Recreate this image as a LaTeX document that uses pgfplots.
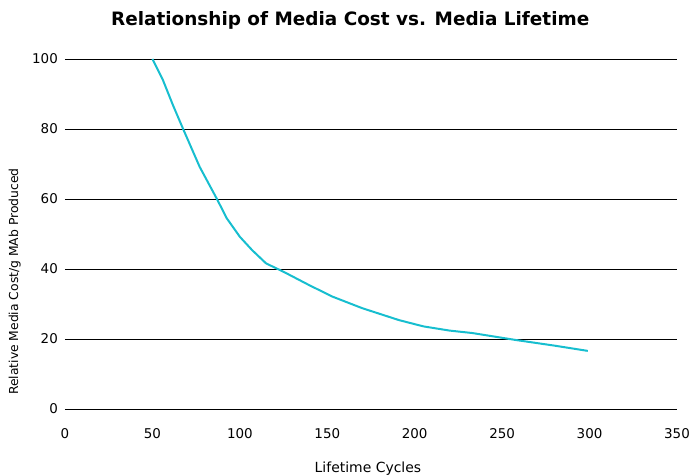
\documentclass[border=0pt]{standalone}
\usepackage{fontspec}
\setmainfont{DejaVu Sans}
\usepackage{pgfplots}
\pgfplotsset{compat=1.18}
\definecolor{curvecyan}{RGB}{23,190,207}

\begin{document}
\fontsize{12}{14}\selectfont
\begin{tikzpicture}
\useasboundingbox (-65bp,-66bp) rectangle (625bp,409bp);
\begin{axis}[
    scale only axis,
    width=612bp, height=350bp,
    xmin=0, xmax=350, ymin=0, ymax=100,
    xtick={0,50,...,350}, ytick={0,20,...,100},
    major tick length=0pt,
    axis line style={draw=none},
    ymajorgrids,
    grid style={black, line width=0.8bp},
    /pgf/number format/assume math mode=true,
    ticklabel style={font=\fontsize{13.5}{16}\selectfont},
    xticklabel style={yshift=-15bp},
    yticklabel style={xshift=-3bp},
    title={\textbf{Relationship of Media Cost vs. Media Lifetime}},
    title style={at={(axis description cs:0.466,1.094)}, anchor=center, font=\fontsize{18.5}{22}\selectfont},
    xlabel={Lifetime Cycles},
    xlabel style={at={(axis description cs:0.495,-0.169)}, anchor=center, font=\fontsize{14}{16}\selectfont},
    ylabel={Relative Media Cost/g MAb Produced},
    ylabel style={at={(axis description cs:-0.082,0.364)}, anchor=center, rotate=0, font=\fontsize{12.4}{15}\selectfont},
]
\addplot[curvecyan, line width=2bp, mark=none] coordinates {
    (50,100) (56,94) (62,86.5) (68,79.5) (77,69.2) (87,59.9) (92.5,54.5)
    (100,49.2) (107,45.4) (115,41.6) (125,39.2) (140,35.3) (153,32.1)
    (170,28.8) (191,25.4) (205,23.6) (220,22.4) (233,21.7) (258,19.7)
    (280,18.1) (299,16.6)
};
\end{axis}
\end{tikzpicture}
\end{document}
